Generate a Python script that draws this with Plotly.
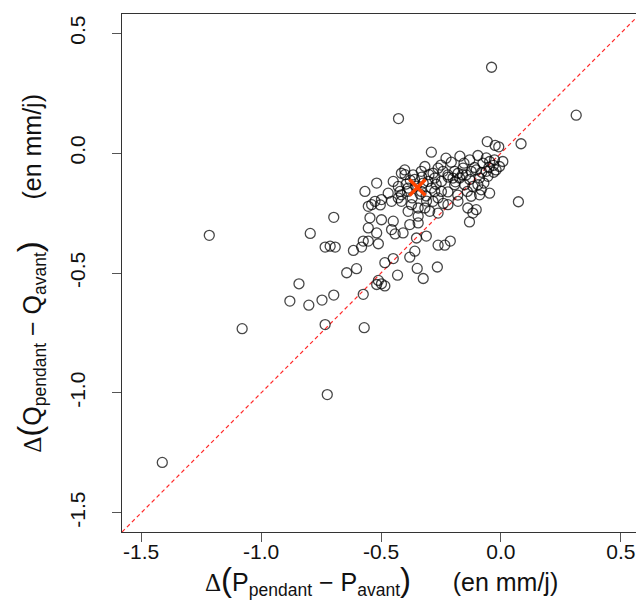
import plotly.graph_objects as go

# ---- data ----
dP = [
    -0.039, 0.314, -0.427, 0.084, 0.073, -0.131, -0.697, -0.795, -1.216, -0.733,
    -0.712, -0.691, -0.842, -0.880, -0.801, -0.746, -0.697, -1.079, -0.733, -0.570,
    -0.724, -1.412,
    -0.345, -0.553, -0.518, -0.456, -0.408, -0.441, -0.574, -0.553, -0.511, -0.615,
    -0.581, -0.352, -0.311, -0.359, -0.262, -0.234, -0.211, -0.484, -0.449, -0.380,
    -0.643, -0.602, -0.349, -0.265, -0.431, -0.324, -0.511, -0.498, -0.518, -0.484,
    -0.574,
    -0.366, -0.283, -0.518, -0.567, -0.470, -0.421, -0.525, -0.553, -0.498, -0.539,
    -0.428, -0.503, -0.387, -0.345, -0.345, -0.297, -0.546, -0.498, -0.449, -0.380,
    -0.283, -0.276,
    -0.290, -0.057, -0.024, -0.096, -0.130, -0.075, -0.207, -0.154, -0.047, -0.027,
    -0.317, -0.262, -0.241, -0.193, -0.401, -0.415, -0.332, -0.221, -0.172, -0.145,
    -0.124, -0.103, -0.276, -0.248, -0.304, -0.193, -0.151, -0.096, -0.054, -0.449,
    -0.428, -0.387, -0.415, -0.332, -0.290, -0.248, -0.124, -0.089, -0.456, -0.415,
    -0.373, -0.317, -0.221, -0.179, -0.103, -0.117, -0.138, -0.262,
    0.008, -0.006, -0.061, -0.020, -0.089, -0.117, -0.082, -0.047, -0.009, -0.061,
    -0.031, -0.180, -0.071, -0.179, -0.378, -0.324, -0.312, -0.370, -0.262, -0.221,
    -0.354, -0.337, -0.395, -0.200, -0.158, -0.229, -0.171,
    -0.250, -0.220, -0.190, -0.160, -0.130, -0.110, -0.080, -0.050, -0.030, -0.140,
    -0.300, -0.270, -0.360, -0.330, -0.390, -0.310, -0.240, -0.400,
]
dQ = [
    0.358, 0.158, 0.144, 0.039, -0.203, -0.287, -0.268, -0.335, -0.343, -0.392,
    -0.388, -0.392, -0.545, -0.617, -0.634, -0.613, -0.592, -0.732, -0.715, -0.728,
    -1.007, -1.290,
    -0.291, -0.312, -0.333, -0.319, -0.333, -0.337, -0.367, -0.367, -0.378, -0.406,
    -0.392, -0.354, -0.346, -0.409, -0.384, -0.384, -0.367, -0.457, -0.440, -0.434,
    -0.499, -0.482, -0.481, -0.475, -0.509, -0.523, -0.531, -0.545, -0.548, -0.554,
    -0.589,
    -0.091, -0.084, -0.125, -0.160, -0.167, -0.160, -0.201, -0.222, -0.194, -0.215,
    -0.187, -0.216, -0.243, -0.229, -0.263, -0.243, -0.270, -0.278, -0.284, -0.298,
    -0.201, -0.160,
    0.004, 0.048, 0.032, -0.010, -0.028, -0.042, -0.038, -0.042, -0.035, -0.028,
    -0.056, -0.063, -0.076, -0.076, -0.070, -0.084, -0.076, -0.091, -0.104, -0.091,
    -0.076, -0.070, -0.104, -0.118, -0.118, -0.132, -0.132, -0.132, -0.097, -0.118,
    -0.139, -0.146, -0.174, -0.160, -0.146, -0.160, -0.180, -0.174, -0.201, -0.201,
    -0.215, -0.229, -0.215, -0.201, -0.236, -0.250, -0.229, -0.250,
    -0.035, -0.056, -0.076, -0.070, -0.104, -0.139, -0.153, -0.167, 0.026, -0.020,
    -0.051, -0.175, -0.125, -0.084, -0.113, -0.125, -0.179, -0.187, -0.187, -0.162,
    -0.138, -0.171, -0.129, -0.104, -0.063, -0.021, -0.013,
    -0.050, -0.100, -0.120, -0.090, -0.110, -0.060, -0.080, -0.060, -0.080, -0.160,
    -0.090, -0.130, -0.110, -0.100, -0.160, -0.200, -0.210, -0.090,
]
mean_dP = [-0.348]
mean_dQ = [-0.143]

axis_limits = [-1.5, 0.5]
tick_values = [-1.5, -1.0, -0.5, 0.0, 0.5]
tick_labels = ["-1.5", "-1.0", "-0.5", "0.0", "0.5"]

pad = 0.04 * (axis_limits[1] - axis_limits[0])
rng = [axis_limits[0] - pad, axis_limits[1] + pad]

FONT = "Liberation Sans, Arial, sans-serif"

fig = go.Figure()

# 1:1 line
fig.add_trace(go.Scatter(
    x=rng, y=rng, mode="lines",
    line=dict(color="#FF2A2A", width=1.2, dash="4px,3px"),
    hoverinfo="skip", showlegend=False,
))

fig.add_trace(go.Scatter(
    x=dP, y=dQ, mode="markers",
    marker=dict(symbol="circle-open", size=10, color="rgba(0,0,0,0.72)",
                line=dict(width=1.3, color="rgba(0,0,0,0.72)")),
    showlegend=False, cliponaxis=False,
))

fig.add_trace(go.Scatter(
    x=mean_dP, y=mean_dQ, mode="markers",
    marker=dict(symbol="x-thin", size=16, color="#FF4500",
                line=dict(width=3.5, color="#FF4500")),
    showlegend=False,
))

axis_common = dict(
    range=rng, showgrid=False, zeroline=False,
    showline=True, linecolor="#333333", linewidth=1.3, mirror=True,
    ticks="outside", ticklen=9, tickwidth=1.2, tickcolor="#555555",
    tickvals=tick_values, ticktext=tick_labels,
    tickfont=dict(family=FONT, size=21, color="#111111"),
)

fig.update_layout(
    width=644, height=601,
    margin=dict(l=114, r=12, t=6, b=77),
    paper_bgcolor="white", plot_bgcolor="white",
    xaxis=dict(**axis_common, ticklabelstandoff=-8),
    yaxis=dict(**axis_common, tickangle=-90, ticklabelstandoff=18),
    font=dict(family=FONT),
)

big = '<span style="font-size:33px">'
delta = '<span style="font-family:\'Liberation Serif\', serif">Δ</span>'
sp = "\u00a0" * 6

xtitle = (delta + big + "(</span>P<sub>pendant</sub> − P<sub>avant</sub>" + big + ")</span>"
          + sp + "(en mm/j)")
ytitle = (delta + big + "(</span>Q<sub>pendant</sub> − Q<sub>avant</sub>" + big + ")</span>"
          + sp + "(en mm/j)")

fig.add_annotation(
    text=xtitle, xref="paper", yref="paper", x=0.5, y=-0.093,
    xanchor="center", yanchor="middle", showarrow=False,
    font=dict(family=FONT, size=25, color="#111111"),
)
fig.add_annotation(
    text=ytitle, xref="paper", yref="paper", x=-0.178, y=0.5,
    xanchor="center", yanchor="middle", showarrow=False, textangle=-90,
    font=dict(family=FONT, size=25, color="#111111"),
)

fig.write_html("out.html")
